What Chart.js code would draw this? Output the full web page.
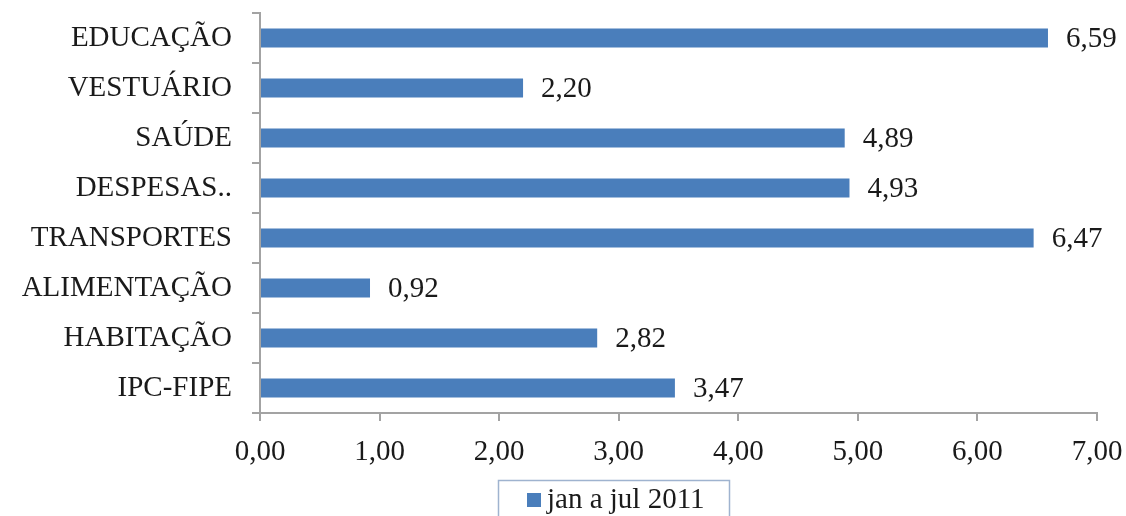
<!DOCTYPE html>
<html>
<head>
<meta charset="utf-8">
<script src="https://cdn.jsdelivr.net/npm/chart.js@4"></script>
<style>
  html, body { margin: 0; padding: 0; background: #fff; overflow: hidden; }
  #wrap { width: 1126px; height: 516px; }
</style>
</head>
<body>
<div id="wrap"><canvas id="chart" width="1126" height="516"></canvas></div>
<script>
"use strict";

const categories = ['EDUCAÇÃO', 'VESTUÁRIO', 'SAÚDE', 'DESPESAS..', 'TRANSPORTES', 'ALIMENTAÇÃO', 'HABITAÇÃO', 'IPC-FIPE'];
const values = [6.59, 2.20, 4.89, 4.93, 6.47, 0.92, 2.82, 3.47];
const seriesName = 'jan a jul 2011';
const xTicks = [0, 1, 2, 3, 4, 5, 6, 7];

const serif = "'Liberation Serif', 'Times New Roman', serif";
const blue = '#4a7ebb';
const axisGray = '#a3a3a3';
const ink = '#1a1a1a';
const fontSize = 29;

const fmt = v => v.toFixed(2).replace('.', ',');

// value labels to the right of each bar
const valueLabels = {
  id: 'valueLabels',
  afterDatasetsDraw(chart) {
    const ctx = chart.ctx;
    const meta = chart.getDatasetMeta(0);
    ctx.save();
    ctx.font = fontSize + 'px ' + serif;
    ctx.fillStyle = ink;
    ctx.textBaseline = 'middle';
    ctx.textAlign = 'left';
    meta.data.forEach((bar, i) => {
      ctx.fillText(fmt(chart.data.datasets[0].data[i]), bar.x + 18, bar.y + 1);
    });
    ctx.restore();
  }
};

// boxed legend below the axis (bottom edge runs off the picture)
const boxLegend = {
  id: 'boxLegend',
  afterDraw(chart) {
    const ctx = chart.ctx;
    const ds = chart.data.datasets[0];
    ctx.save();
    ctx.strokeStyle = '#9fb3cf';
    ctx.lineWidth = 1.5;
    ctx.strokeRect(498.5, 480.5, 231, 60);
    ctx.fillStyle = ds.backgroundColor;
    ctx.fillRect(527, 493, 14, 14);
    ctx.font = fontSize + 'px ' + serif;
    ctx.fillStyle = ink;
    ctx.textBaseline = 'middle';
    ctx.fillText(ds.label, 547, 500);
    ctx.restore();
  }
};

new Chart(document.getElementById('chart').getContext('2d'), {
  type: 'bar',
  data: {
    labels: categories,
    datasets: [{
      label: seriesName,
      data: values,
      backgroundColor: blue,
      borderWidth: 0,
      categoryPercentage: 1,
      barPercentage: 0.38,
    }],
  },
  options: {
    indexAxis: 'y',
    responsive: false,
    animation: false,
    layout: {
      padding: {left: 10, right: 29, top: 13, bottom: 43},
    },
    plugins: {
      legend: {display: false},
      tooltip: {enabled: false},
    },
    scales: {
      x: {
        min: 0,
        max: 7,
        afterBuildTicks: scale => {
          scale.ticks = xTicks.map(v => ({value: v}));
        },
        afterFit: scale => {
          scale.height = 60;
          scale.paddingLeft = 0;
          scale.paddingRight = 0;
        },
        grid: {
          drawOnChartArea: false,
          drawTicks: true,
          tickLength: 8,
          color: axisGray,
          lineWidth: 2,
        },
        border: {display: true, color: axisGray, width: 2},
        ticks: {
          padding: 14,
          color: ink,
          font: {family: serif, size: fontSize},
          callback: v => fmt(v),
        },
      },
      y: {
        afterFit: scale => {
          scale.width = 250;
          scale.paddingTop = 0;
          scale.paddingBottom = 0;
        },
        grid: {
          offset: true,
          drawOnChartArea: false,
          drawTicks: true,
          tickLength: 8,
          color: axisGray,
          lineWidth: 2,
        },
        border: {display: true, color: axisGray, width: 2},
        ticks: {
          padding: 20,
          color: ink,
          font: {family: serif, size: fontSize},
        },
      },
    },
  },
  plugins: [valueLabels, boxLegend],
});
</script>
</body>
</html>
